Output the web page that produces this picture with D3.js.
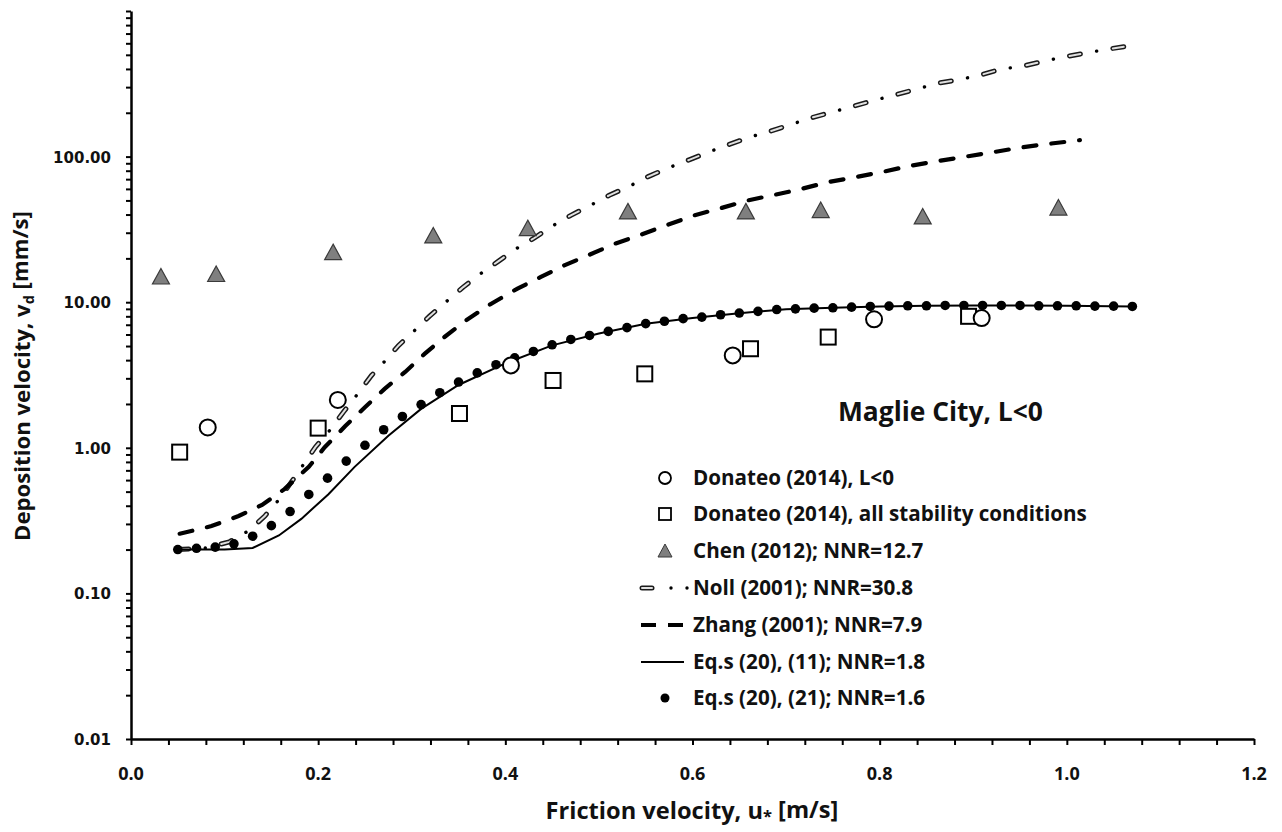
<!DOCTYPE html>
<html><head><meta charset="utf-8">
<script src="https://cdn.jsdelivr.net/npm/d3@7"></script>
<style>body{margin:0;background:#fff}svg{display:block}</style>
</head><body><svg id="c" width="1282" height="832"></svg>
<script>
// ---------------- DATA ----------------
const xTickValues = [0, 0.2, 0.4, 0.6, 0.8, 1.0, 1.2];
const xTickLabels = ["0.0", "0.2", "0.4", "0.6", "0.8", "1.0", "1.2"];
const yTickValues = [0.01, 0.1, 1, 10, 100];
const yTickLabels = ["0.01", "0.10", "1.00", "10.00", "100.00"];

// Donateo (2014), L<0  (circles)
const donateoL_x = [0.082, 0.221, 0.406, 0.643, 0.794, 0.909];
const donateoL_y = [1.38, 2.13, 3.68, 4.31, 7.63, 7.78];
// Donateo (2014), all stability conditions (squares)
const donateoAll_x = [0.052, 0.200, 0.351, 0.451, 0.549, 0.662, 0.745, 0.895];
const donateoAll_y = [0.934, 1.365, 1.72, 2.90, 3.22, 4.79, 5.76, 8.0];
// Chen (2012) (triangles)
const chen_x = [0.032, 0.091, 0.216, 0.323, 0.424, 0.531, 0.657, 0.737, 0.846, 0.991];
const chen_y = [14.9, 15.5, 21.9, 28.5, 32.0, 41.7, 41.7, 42.6, 38.5, 44.3];
// Noll (2001)
const noll_x = [0.05, 0.08, 0.105, 0.126, 0.143, 0.158, 0.172, 0.185, 0.197, 0.212, 0.227, 0.241, 0.257, 0.271, 0.286, 0.303, 0.319, 0.337, 0.355, 0.373, 0.392, 0.412, 0.431, 0.45, 0.47, 0.491, 0.511, 0.533, 0.552, 0.574, 0.597, 0.618, 0.639, 0.661, 0.684, 0.705, 0.726, 0.749, 0.772, 0.794, 0.816, 0.839, 0.861, 0.885, 0.907, 0.929, 0.952, 0.975, 0.997, 1.021, 1.042, 1.066];
const noll_y = [0.20, 0.205, 0.226, 0.27, 0.34, 0.44, 0.59, 0.78, 1.01, 1.31, 1.76, 2.29, 3.14, 3.92, 5.05, 6.39, 8.02, 10.1, 12.7, 15.6, 19.0, 23.4, 27.6, 33.3, 39.5, 46.3, 54.2, 62.8, 72.6, 83.6, 95.3, 108, 121, 136, 150, 166, 184, 202, 222, 243, 265, 290, 318, 338, 362, 398, 417, 451, 484, 515, 545, 574];
// Zhang (2001)
const zhang_x = [0.052, 0.086, 0.115, 0.140, 0.164, 0.19, 0.207, 0.229, 0.25, 0.271, 0.293, 0.314, 0.335, 0.358, 0.385, 0.413, 0.438, 0.463, 0.49, 0.517, 0.545, 0.574, 0.602, 0.629, 0.659, 0.685, 0.714, 0.744, 0.774, 0.803, 0.831, 0.861, 0.89, 0.919, 0.949, 0.977, 1.014];
const zhang_y = [0.257, 0.29, 0.34, 0.405, 0.52, 0.74, 1.01, 1.41, 1.90, 2.54, 3.32, 4.43, 5.77, 7.5, 9.77, 12.4, 14.9, 17.9, 21.2, 25.2, 29.1, 34.1, 39.5, 44, 50, 54.2, 59.5, 66.6, 72.3, 78.5, 86, 93, 99.5, 106.6, 115, 121.6, 129.7];
// Eq.s (20), (11)  (solid line)
const eq11_x = [0.05, 0.10, 0.13, 0.158, 0.182, 0.211, 0.239, 0.275, 0.31, 0.35, 0.40, 0.45, 0.50, 0.55, 0.60, 0.65, 0.70, 0.75, 0.80, 0.85, 0.90, 0.95, 1.00, 1.07];
const eq11_y = [0.20, 0.20, 0.205, 0.25, 0.325, 0.48, 0.74, 1.21, 1.85, 2.7, 3.8, 5.05, 6.1, 7.1, 7.8, 8.4, 8.95, 9.15, 9.35, 9.45, 9.5, 9.5, 9.45, 9.35];
// Eq.s (20), (21)  (dots)
const eq21_x = [0.05, 0.07, 0.09, 0.11, 0.13, 0.15, 0.17, 0.19, 0.21, 0.23, 0.25, 0.27, 0.29, 0.31, 0.33, 0.35, 0.37, 0.39, 0.41, 0.43, 0.45, 0.47, 0.49, 0.51, 0.53, 0.55, 0.57, 0.59, 0.61, 0.63, 0.65, 0.67, 0.69, 0.71, 0.73, 0.75, 0.77, 0.79, 0.81, 0.83, 0.85, 0.87, 0.89, 0.91, 0.93, 0.95, 0.97, 0.99, 1.01, 1.03, 1.05, 1.07];
const eq21_y = [0.200, 0.204, 0.208, 0.219, 0.247, 0.292, 0.365, 0.478, 0.619, 0.81, 1.04, 1.33, 1.64, 1.98, 2.39, 2.83, 3.27, 3.72, 4.15, 4.59, 5.10, 5.55, 5.91, 6.3, 6.69, 7.13, 7.4, 7.71, 7.9, 8.2, 8.42, 8.65, 8.9, 9.0, 9.1, 9.15, 9.25, 9.35, 9.4, 9.45, 9.45, 9.5, 9.5, 9.5, 9.5, 9.5, 9.45, 9.45, 9.45, 9.4, 9.4, 9.35];

const legendLabels = ["Donateo (2014), L<0", "Donateo (2014), all stability conditions", "Chen (2012); NNR=12.7", "Noll (2001); NNR=30.8", "Zhang (2001); NNR=7.9", "Eq.s (20), (11); NNR=1.8", "Eq.s (20), (21); NNR=1.6"];
const chartTitle = "Maglie City, L<0";

// ---------------- CHART ----------------
const FONT = "'Open Sans', Lato, sans-serif";
const svg = d3.select("#c");
svg.append("rect").attr("width", 1282).attr("height", 832).attr("fill", "#fff");

const x = d3.scaleLinear().domain([0, 1.2]).range([131, 1254]);
const y = d3.scaleLog().domain([0.01, 1000]).range([739, 11]);
const zip = (a, b) => a.map((v, i) => [v, b[i]]);
// scale a text's font size so that it spans the wanted width
function fitWidth(sel, target) {
  const L = sel.node().getComputedTextLength();
  const fs = parseFloat(sel.attr("font-size"));
  sel.attr("font-size", fs * target / L);
  return fs * target / L;
}

// axes (ticks only)
const xMinor = d3.range(0, 1.2001, 0.04);
svg.append("g").attr("transform", `translate(0,${y(0.01)})`)
  .call(d3.axisBottom(x).tickValues(xMinor).tickSize(6).tickSizeOuter(0).tickFormat(""))
  .call(g => { g.select(".domain").attr("stroke-width", 2.5); g.selectAll(".tick line").attr("stroke-width", 2); });
svg.append("g").attr("transform", `translate(${x(0)},0)`)
  .call(d3.axisLeft(y).tickValues(y.ticks()).tickSize(5).tickSizeOuter(0).tickFormat(""))
  .call(g => { g.select(".domain").attr("stroke-width", 2.5); g.selectAll(".tick line").attr("stroke-width", 2); });

// tick labels
svg.append("g").selectAll("text").data(xTickValues).join("text")
  .attr("x", d => x(d)).attr("y", y(0.01) + 41)
  .attr("text-anchor", "middle").attr("font-family", FONT).attr("font-weight", "bold")
  .attr("font-size", 18).attr("fill", "#111").text((d, i) => xTickLabels[i]);
svg.append("g").selectAll("text").data(yTickValues).join("text")
  .attr("x", 111).attr("y", d => y(d) + 6)
  .attr("text-anchor", "end").attr("font-family", "'DejaVu Sans', Verdana, sans-serif").attr("font-weight", "bold")
  .attr("font-size", 15).attr("fill", "#111").text((d, i) => yTickLabels[i]);

// axis titles
const xt = svg.append("text").attr("x", 692).attr("y", 819).attr("text-anchor", "middle")
  .attr("font-family", FONT).attr("font-weight", "bold").attr("font-size", 20).attr("fill", "#111");
xt.append("tspan").text("Friction velocity, u");
xt.append("tspan").attr("font-size", "0.7em").attr("dy", "0.2em").text("*");
xt.append("tspan").attr("dy", "-0.2em").text("  [m/s]");
fitWidth(xt, 293);
const yt = svg.append("text").attr("transform", "translate(30,376) rotate(-90)").attr("text-anchor", "middle")
  .attr("font-family", FONT).attr("font-weight", "bold").attr("font-size", 20).attr("fill", "#111");
yt.append("tspan").text("Deposition velocity, v");
yt.append("tspan").attr("font-size", "0.65em").attr("dy", "0.25em").text("d");
yt.append("tspan").attr("dy", "-0.25em").text("  [mm/s]");
fitWidth(yt, 330);

// chart title
const tt = svg.append("text").attr("x", 838).attr("y", 421).attr("font-family", FONT).attr("font-weight", "bold")
  .attr("font-size", 22).attr("fill", "#111").text(chartTitle);
fitWidth(tt, 205);

const line = d3.line().x(d => x(d[0])).y(d => y(d[1]));

// Noll: hollow dashes + dots
const nollD = line(zip(noll_x, noll_y));
svg.append("path").attr("d", nollD).attr("fill", "none").attr("stroke", "#1a1a1a").attr("stroke-width", 5)
  .attr("stroke-linecap", "round").attr("stroke-dasharray", "11,33");
svg.append("path").attr("d", nollD).attr("fill", "none").attr("stroke", "#e0e0e0").attr("stroke-width", 2)
  .attr("stroke-linecap", "round").attr("stroke-dasharray", "11,33");
svg.append("path").attr("d", nollD).attr("fill", "none").attr("stroke", "#000").attr("stroke-width", 3.4)
  .attr("stroke-linecap", "round").attr("stroke-dasharray", "0.1,43.9").attr("stroke-dashoffset", -27.5);

// Zhang: thick dashes
svg.append("path").attr("d", line(zip(zhang_x, zhang_y))).attr("fill", "none").attr("stroke", "#000")
  .attr("stroke-width", 4.2).attr("stroke-linecap", "round").attr("stroke-dasharray", "13,15");

// Eq 11 solid
svg.append("path").attr("d", line(zip(eq11_x, eq11_y))).attr("fill", "none").attr("stroke", "#000").attr("stroke-width", 2);

// Eq 21 dots
svg.append("g").selectAll("circle").data(zip(eq21_x, eq21_y)).join("circle")
  .attr("cx", d => x(d[0])).attr("cy", d => y(d[1])).attr("r", 4.8).attr("fill", "#000");

// Chen triangles
const tri = "M0,-8.5L8.5,7L-8.5,7Z";
svg.append("g").selectAll("path").data(zip(chen_x, chen_y)).join("path")
  .attr("transform", d => `translate(${x(d[0])},${y(d[1])})`).attr("d", tri)
  .attr("fill", "#7f7f7f").attr("stroke", "#3a3a3a").attr("stroke-width", 1.2);

// Donateo squares
svg.append("g").selectAll("rect").data(zip(donateoAll_x, donateoAll_y)).join("rect")
  .attr("x", d => x(d[0]) - 7.5).attr("y", d => y(d[1]) - 7.5).attr("width", 15).attr("height", 15)
  .attr("fill", "#fff").attr("stroke", "#000").attr("stroke-width", 2);

// Donateo circles
svg.append("g").selectAll("circle").data(zip(donateoL_x, donateoL_y)).join("circle")
  .attr("cx", d => x(d[0])).attr("cy", d => y(d[1])).attr("r", 8)
  .attr("fill", "#fff").attr("stroke", "#000").attr("stroke-width", 2);

// ---------------- LEGEND ----------------
const legY = [478, 514, 551, 588, 625, 662, 698];
const lg = svg.append("g");
const legTexts = legendLabels.map((t, i) => lg.append("text").attr("x", 693).attr("y", legY[i] + 7)
  .attr("font-family", FONT).attr("font-weight", "bold").attr("font-size", 18).attr("fill", "#111").text(t));
const legFs = fitWidth(legTexts[1], 394);
legTexts.forEach(t => t.attr("font-size", legFs));
const mx = 665;
lg.append("circle").attr("cx", mx).attr("cy", legY[0]).attr("r", 6).attr("fill", "#fff").attr("stroke", "#000").attr("stroke-width", 1.8);
lg.append("rect").attr("x", mx - 6).attr("y", legY[1] - 6).attr("width", 12).attr("height", 12).attr("fill", "#fff").attr("stroke", "#000").attr("stroke-width", 1.8);
lg.append("path").attr("transform", `translate(${mx},${legY[2]})`).attr("d", "M0,-7L7,6L-7,6Z").attr("fill", "#7f7f7f").attr("stroke", "#3a3a3a");
// Noll sample
lg.append("path").attr("d", `M${642},${legY[3]}L${652},${legY[3]}`).attr("stroke", "#1a1a1a").attr("stroke-width", 5).attr("stroke-linecap", "round");
lg.append("path").attr("d", `M${642},${legY[3]}L${652},${legY[3]}`).attr("stroke", "#e0e0e0").attr("stroke-width", 2).attr("stroke-linecap", "round");
[671, 687].forEach(cx => lg.append("circle").attr("cx", cx).attr("cy", legY[3]).attr("r", 1.7).attr("fill", "#000"));
// Zhang sample
lg.append("path").attr("d", `M${641},${legY[4]}L${683},${legY[4]}`).attr("stroke", "#000").attr("stroke-width", 4.2).attr("stroke-dasharray", "15,12");
// Eq 11 sample
lg.append("path").attr("d", `M${641},${legY[5]}L${684},${legY[5]}`).attr("stroke", "#000").attr("stroke-width", 2);
// Eq 21 sample
lg.append("circle").attr("cx", mx).attr("cy", legY[6]).attr("r", 4.5).attr("fill", "#000");
</script>
</body></html>
